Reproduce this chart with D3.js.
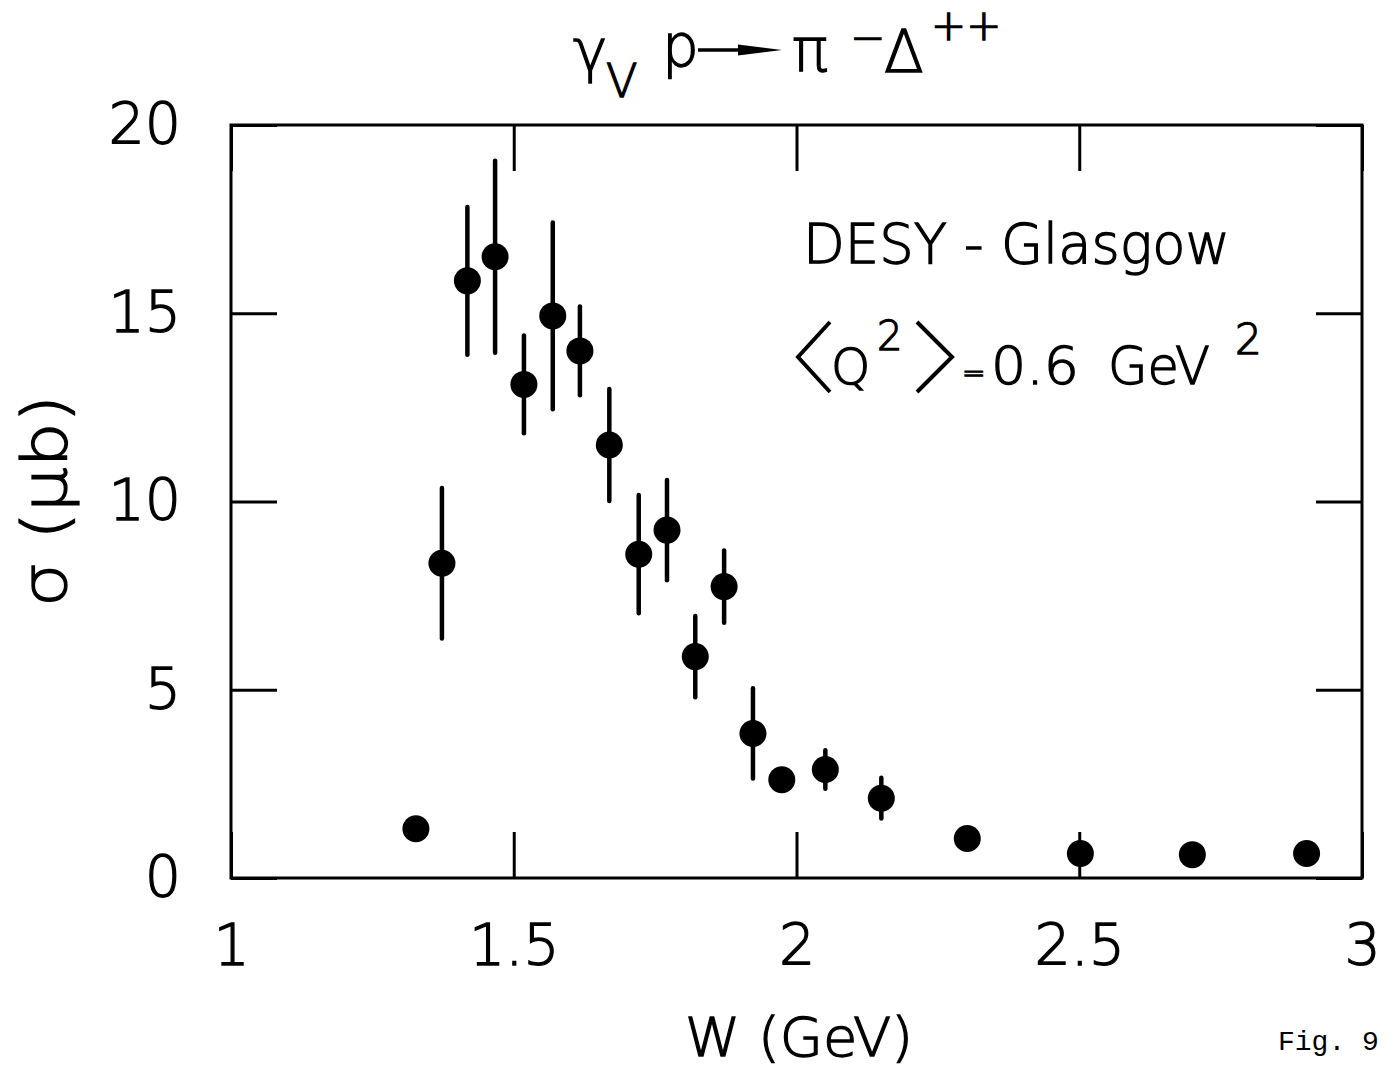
<!DOCTYPE html>
<html>
<head>
<meta charset="utf-8">
<script src="https://cdn.jsdelivr.net/npm/d3@7"></script>
<style>
  html, body { margin: 0; padding: 0; background: #fff; }
  svg { display: block; }
  text { font-family: "DejaVu Sans", sans-serif; font-weight: 200; fill: #000;
         stroke: #000; stroke-width: 1.3px; }
  text.mono { stroke: none; }
</style>
</head>
<body>
<svg id="chart" width="1396" height="1073"></svg>
<script>
// Centre-of-mass energy W (GeV) of each measured bin
const wValues = [1.327, 1.373, 1.418, 1.467, 1.518, 1.569, 1.617, 1.669, 1.721, 1.771,
                 1.821, 1.872, 1.923, 1.974, 2.051, 2.150, 2.302, 2.502, 2.700, 2.902];
// Cross section sigma (microbarn)
const sigmaValues = [1.31, 8.36, 15.86, 16.50, 13.11, 14.93, 14.00, 11.50, 8.60, 9.24,
                     5.88, 7.74, 3.84, 2.61, 2.88, 2.12, 1.05, 0.65, 0.62, 0.65];
// Symmetric uncertainty on sigma (0 = no error bar drawn)
const sigmaErrors = [0, 2.00, 1.96, 2.55, 1.30, 2.48, 1.18, 1.49, 1.57, 1.33,
                     1.08, 0.96, 1.20, 0, 0.51, 0.54, 0, 0, 0, 0];

const xTickValues = [1, 1.5, 2, 2.5, 3];
const xTickLabels = ["1", "1.5", "2", "2.5", "3"];
const yTickValues = [0, 5, 10, 15, 20];
const yTickLabels = ["0", "5", "10", "15", "20"];

const svg = d3.select("#chart");
svg.append("rect").attr("width", 1396).attr("height", 1073).attr("fill", "#fff");

const plot = { left: 231, right: 1362, top: 125, bottom: 878 };
const x = d3.scaleLinear().domain([1, 3]).range([plot.left, plot.right]);
const y = d3.scaleLinear().domain([0, 20]).range([plot.bottom, plot.top]);

const tickLen = 46;
const tickFont = 57;

function styleAxis(g, showLabels) {
  g.select(".domain").remove();
  g.selectAll(".tick line").attr("stroke", "#000").attr("stroke-width", 3);
  g.selectAll(".tick text")
    .attr("font-family", "DejaVu Sans, sans-serif")
    .attr("font-size", tickFont)
    .attr("fill", "#000")
    .style("display", showLabels ? null : "none");
}

// bottom and top axes (ticks point inward)
svg.append("g")
  .attr("transform", `translate(0,${plot.bottom})`)
  .call(d3.axisBottom(x).tickValues(xTickValues).tickSizeInner(-tickLen).tickSizeOuter(0)
    .tickPadding(47).tickFormat((d, i) => xTickLabels[i]))
  .call(g => styleAxis(g, true));
svg.append("g")
  .attr("transform", `translate(0,${plot.top})`)
  .call(d3.axisTop(x).tickValues(xTickValues).tickSizeInner(-tickLen).tickSizeOuter(0))
  .call(g => styleAxis(g, false));

// left and right axes
svg.append("g")
  .attr("transform", `translate(${plot.left},0)`)
  .call(d3.axisLeft(y).tickValues(yTickValues).tickSizeInner(-tickLen).tickSizeOuter(0)
    .tickPadding(50).tickFormat((d, i) => yTickLabels[i]))
  .call(g => styleAxis(g, true));
svg.append("g")
  .attr("transform", `translate(${plot.right},0)`)
  .call(d3.axisRight(y).tickValues(yTickValues).tickSizeInner(-tickLen).tickSizeOuter(0))
  .call(g => styleAxis(g, false));

// frame
svg.append("rect")
  .attr("x", plot.left).attr("y", plot.top)
  .attr("width", plot.right - plot.left).attr("height", plot.bottom - plot.top)
  .attr("fill", "none").attr("stroke", "#000").attr("stroke-width", 3);

// data
const points = wValues.map((w, i) => ({ w, s: sigmaValues[i], e: sigmaErrors[i] }));

svg.append("g").selectAll("line")
  .data(points.filter(d => d.e > 0))
  .join("line")
  .attr("x1", d => x(d.w)).attr("x2", d => x(d.w))
  .attr("y1", d => y(d.s + d.e)).attr("y2", d => y(d.s - d.e))
  .attr("stroke", "#000").attr("stroke-width", 4.5).attr("stroke-linecap", "round");

svg.append("g").selectAll("circle")
  .data(points)
  .join("circle")
  .attr("cx", d => x(d.w)).attr("cy", d => y(d.s))
  .attr("r", 13.5).attr("fill", "#000");

// title: gamma_V p -> pi^- Delta^++
const title = svg.append("g");
title.append("text").attr("x", 573).attr("y", 71).attr("font-size", 58).text("γ");
title.append("text").attr("x", 606).attr("y", 97).attr("font-size", 46).text("V");
title.append("text").attr("x", 662).attr("y", 66).attr("font-size", 58).text("p");
title.append("line").attr("x1", 698).attr("x2", 750).attr("y1", 50).attr("y2", 50)
  .attr("stroke", "#000").attr("stroke-width", 3.5);
title.append("path").attr("d", "M738,44.5 L782,50 L738,55.5 Z").attr("fill", "#000");
title.append("text").attr("x", 792).attr("y", 71).attr("font-size", 60).text("π");
title.append("text").attr("x", 850).attr("y", 52).attr("font-size", 42).text("−");
title.append("text").attr("x", 884).attr("y", 72).attr("font-size", 58).text("Δ");
title.append("text").attr("x", 931).attr("y", 40).attr("font-size", 42).text("++");

// annotation
svg.append("text").attr("x", 803).attr("y", 263).attr("font-size", 56)
  .attr("textLength", 427).attr("lengthAdjust", "spacingAndGlyphs")
  .text("DESY - Glasgow");

const ann = svg.append("g");
ann.append("path").attr("d", "M830,322 L798,357 L830,392")
  .attr("fill", "none").attr("stroke", "#000").attr("stroke-width", 4);
ann.append("text").attr("x", 831).attr("y", 384).attr("font-size", 50).text("Q");
ann.append("text").attr("x", 877).attr("y", 350).attr("font-size", 40).text("2");
ann.append("path").attr("d", "M917,322 L952,357 L917,392")
  .attr("fill", "none").attr("stroke", "#000").attr("stroke-width", 4);
ann.append("text").attr("x", 962).attr("y", 382).attr("font-size", 28).text("=");
ann.append("text").attr("x", 991).attr("y", 384).attr("font-size", 52)
  .attr("textLength", 88).attr("lengthAdjust", "spacingAndGlyphs").text("0.6");
ann.append("text").attr("x", 1108).attr("y", 384).attr("font-size", 52)
  .attr("textLength", 102).attr("lengthAdjust", "spacingAndGlyphs").text("GeV");
ann.append("text").attr("x", 1235).attr("y", 354).attr("font-size", 42).text("2");

// axis titles
svg.append("text")
  .attr("transform", "translate(66,501) rotate(-90)")
  .attr("text-anchor", "middle").attr("font-size", 62)
  .attr("textLength", 212).attr("lengthAdjust", "spacingAndGlyphs")
  .text("σ (μb)");
svg.append("text")
  .attr("x", 799).attr("y", 1056).attr("text-anchor", "middle").attr("font-size", 54)
  .attr("textLength", 228).attr("lengthAdjust", "spacingAndGlyphs")
  .text("W (GeV)");

svg.append("text")
  .attr("class", "mono")
  .attr("x", 1278).attr("y", 1050)
  .style("font-family", "'Liberation Mono', monospace").style("font-weight", 400)
  .attr("font-size", 28)
  .text("Fig. 9");
</script>
</body>
</html>
